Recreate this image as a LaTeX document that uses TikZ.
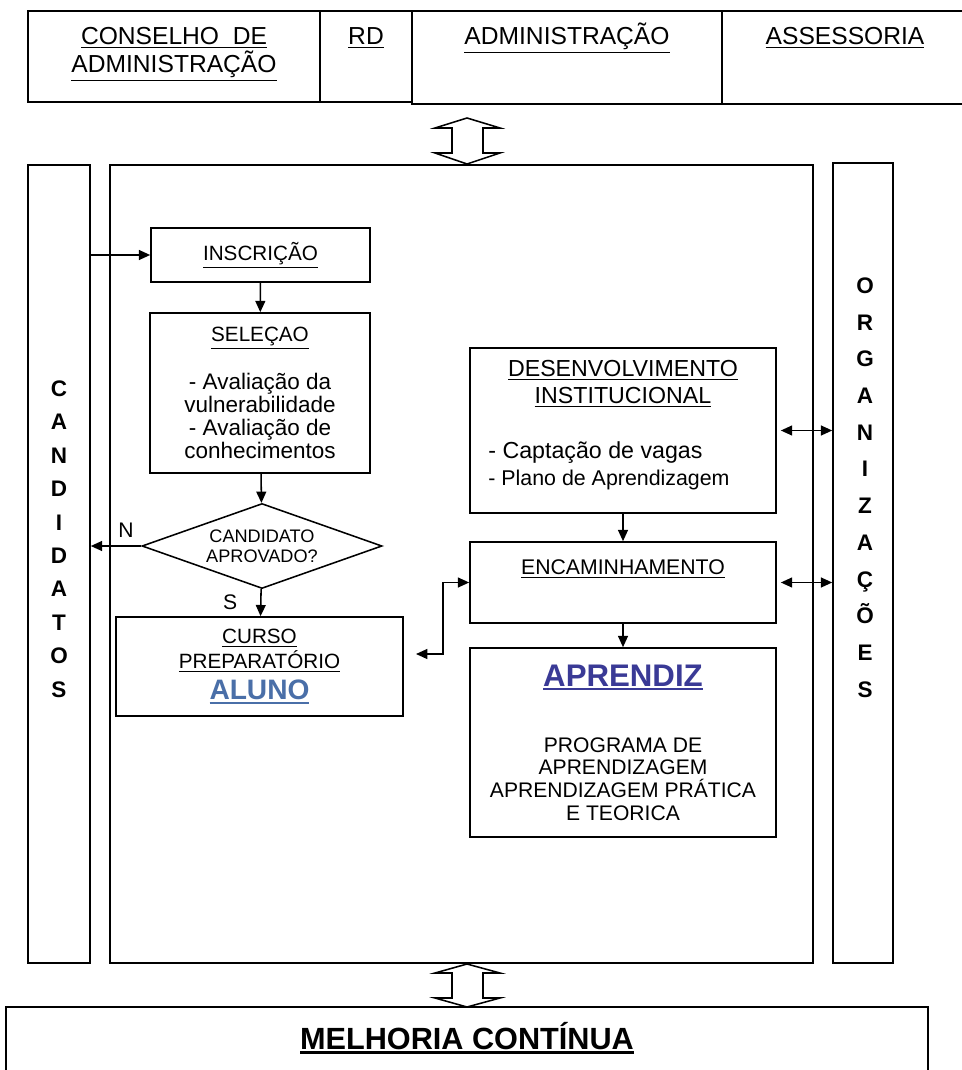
\documentclass[tikz,border=0pt]{standalone}
\usepackage{fontspec}
\setmainfont{Liberation Sans}
\usepackage{xcolor}
\usetikzlibrary{shapes.geometric,arrows.meta}
\definecolor{alunoblue}{HTML}{4A6FA8}
\definecolor{aprendblue}{HTML}{3A3A96}
\newcommand{\ulin}[2][0.6pt]{\vtop{\hbox{#2}\kern1.5pt\hrule height #1}}
\newcommand{\fsz}[2]{\fontsize{#1}{#2}\selectfont\lineskiplimit=-20pt\relax}
\tikzset{
  box/.style={draw, line width=1.1pt, rectangle, inner sep=0pt, align=center},
  head/.style={inner sep=0pt, align=center, font=\fsz{17.5}{19.9}},
  letters/.style={inner sep=0pt, align=center, font=\bfseries\fsz{16}{23.8}},
  arr/.style={-{Triangle[length=8pt,width=7pt]}, line width=1.1pt},
  darr/.style={{Triangle[length=8pt,width=7pt]}-{Triangle[length=8pt,width=7pt]}, line width=1.1pt}
}

\begin{document}
\begin{tikzpicture}[x=0.025cm, y=-0.025cm]
  \useasboundingbox (0,0) rectangle (961,1070);
  \fill[white] (0,0) rectangle (961,1070);

  % topo
  \draw[line width=1.1pt] (28,11) rectangle (320,102);
  \draw[line width=1.1pt] (320,11) rectangle (412,102);
  \draw[line width=1.1pt] (412,11) rectangle (722,104);
  \draw[line width=1.1pt] (722,11) rectangle (970,104);
  \node[head] (conselho) at (174,54) {\ulin{CONSELHO\ \ DE}\\\ulin{ADMINISTRAÇÃO}};
  \node[head, anchor=base] (rd) at (366,45) {\ulin{RD}};
  \node[head, anchor=base] (adm) at (567,45) {\ulin{ADMINISTRAÇÃO}};
  \node[head, anchor=base] (assess) at (845,45) {\ulin{ASSESSORIA}};

  \draw[line width=1.1pt] (467,118) -- (435,128) -- (452,128) -- (452,153) -- (435,153) -- (467,164)
    -- (500,153) -- (483,153) -- (483,128) -- (500,128) -- cycle;

  % colunas
  \node[box, minimum width=1.55cm, minimum height=19.95cm] (cand) at (59,564) {};
  \node[box, minimum width=17.575cm, minimum height=19.95cm] (frame) at (461.5,564) {};
  \node[box, minimum width=1.5cm, minimum height=20cm] (org) at (863,563) {};
  \node[letters] (candtxt) at (59,539) {C\\A\\N\\D\\I\\D\\A\\T\\O\\S};
  \node[letters, font=\bfseries\fsz{16}{26.1}] (orgtxt) at (865,487.5) {O\\R\\G\\A\\N\\I\\Z\\A\\Ç\\Õ\\E\\S};

  % fluxo
  \node[box, minimum width=5.475cm, minimum height=1.35cm, font=\fsz{14.7}{17}] (insc) at (260.5,255) {\ulin{INSCRIÇÃO}};
  \node[box, minimum width=5.5cm, minimum height=4cm, font=\fsz{16}{16.5}] (sel) at (260,393)
    {{\fsz{14.7}{16.5}\ulin{SELEÇAO}}\\[17.5pt]- Avaliação da\\vulnerabilidade\\- Avaliação de\\conhecimentos};
  \node[draw, line width=1.1pt, diamond, aspect=2.82, minimum width=6cm, minimum height=2.125cm,
    inner sep=0pt, align=center, font=\fsz{12.9}{14.2}] (dia) at (262,546) {CANDIDATO\\APROVADO?};
  \node[box, minimum width=7.175cm, minimum height=2.475cm, font=\fsz{14.7}{17.7}] (curso) at (259.5,666.5)
    {\ulin{CURSO}\\\ulin{PREPARATÓRIO}\\[4.5pt]{\color{alunoblue}\bfseries\fontsize{20}{22}\selectfont\ulin[1pt]{ALUNO}}};

  \node[box, minimum width=7.65cm, minimum height=4.125cm, font=\fsz{16.5}{19.1}, text depth=29.5pt] (desenv) at (623,430.5)
    {\ulin{DESENVOLVIMENTO}\\\ulin{INSTITUCIONAL}\\[20pt]\hbox{\vtop{\hbox{- Captação de vagas}\hbox{\fsz{15.2}{19.1}- Plano de Aprendizagem}}\kern0.7cm}};
  \node[box, minimum width=7.65cm, minimum height=2.025cm, font=\fsz{15.1}{17}, text depth=22pt] (encam) at (623,582.5)
    {\ulin{ENCAMINHAMENTO}};
  \node[box, minimum width=7.65cm, minimum height=4.725cm, font=\fsz{15}{16.1}] (aprend) at (623,742.5)
    {{\color{aprendblue}\bfseries\fontsize{22.2}{24}\selectfont\ulin[1.2pt]{APRENDIZ}}\\[30.9pt]PROGRAMA DE\\APRENDIZAGEM\\APRENDIZAGEM PRÁTICA\\E TEORICA};

  \draw[arr] (insc.west -| cand.east) -- (insc.west);
  \draw[arr] (insc) -- (sel);
  \draw[arr] (sel) -- (dia);
  \draw[arr] (dia.west) -- (dia.west -| cand.east) node[pos=0.3, above=2.5pt, font=\fsz{15}{17}] (nlab) {N};
  \draw[arr] (dia) -- (curso) node[midway, left=13pt, font=\fsz{15}{17}] (slab) {S};
  \draw[arr] (desenv) -- (encam);
  \draw[arr] (encam) -- (aprend);
  \coordinate (cursoend) at (416,654);
  \draw[darr] (cursoend) -- ++(27,0) |- (encam.west);
  \draw[darr] ([xshift=0.1cm]desenv.east) -- (desenv.east -| org.west);
  \draw[darr] ([xshift=0.1cm]encam.east) -- (encam.east -| org.west);

  % base
  \draw[line width=1.1pt] (467,964) -- (435,973) -- (452,973) -- (452,998) -- (435,998) -- (467,1007)
    -- (500,998) -- (483,998) -- (483,973) -- (500,973) -- cycle;
  \draw[line width=1.1pt] (6,1007) rectangle (928,1090);
  \node[anchor=base, inner sep=0pt, font=\bfseries\fsz{21.8}{24}] (melhoria) at (467,1049) {\ulin[2pt]{MELHORIA CONTÍNUA}};
\end{tikzpicture}
\end{document}
